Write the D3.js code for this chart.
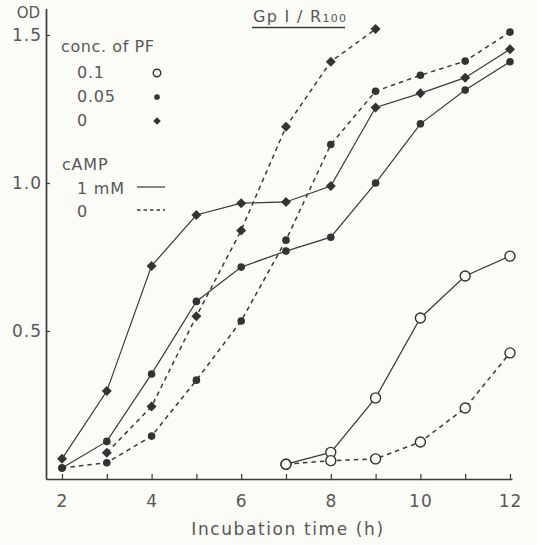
<!DOCTYPE html>
<html>
<head>
<meta charset="utf-8">
<script src="https://cdn.jsdelivr.net/npm/d3@7"></script>
<style>
  html, body { margin: 0; padding: 0; background: #fbfbf8; }
  svg text { font-family: "DejaVu Sans", sans-serif; fill: #585858; }
</style>
</head>
<body>
<div id="chart"></div>
<script>
// --- DATA ---
const hours = [2, 3, 4, 5, 6, 7, 8, 9, 10, 11, 12];

// conc. of PF 0 (diamonds)
const pf0Camp   = [0.068, 0.297, 0.72, 0.892, 0.932, 0.936, 0.99, 1.255, 1.303, 1.356, 1.452];
const pf0NoCamp = [null, 0.089, 0.245, 0.55, 0.84, 1.19, 1.41, 1.52, null, null, null];

// conc. of PF 0.05 (filled dots)
const pf005Camp   = [0.037, 0.127, 0.355, 0.60, 0.716, 0.77, 0.817, 1.0, 1.20, 1.314, 1.41];
const pf005NoCamp = [0.037, 0.055, 0.145, 0.334, 0.534, 0.807, 1.13, 1.31, 1.364, 1.412, 1.51];

// conc. of PF 0.1 (open circles)
const pf01Camp   = [null, null, null, null, null, 0.05, 0.09, 0.274, 0.544, 0.686, 0.753];
const pf01NoCamp = [null, null, null, null, null, 0.05, 0.062, 0.068, 0.125, 0.24, 0.426];

const xTicks = [2, 3, 4, 5, 6, 7, 8, 9, 10, 11, 12];
const yTicks = [0.5, 1.0, 1.5];

const series = [
    { values: pf0Camp,     marker: "diamond", dashed: false },
    { values: pf0NoCamp,   marker: "diamond", dashed: true },
    { values: pf005Camp,   marker: "dot",     dashed: false },
    { values: pf005NoCamp, marker: "dot",     dashed: true },
    { values: pf01Camp,    marker: "circle",  dashed: false },
    { values: pf01NoCamp,  marker: "circle",  dashed: true }
];

const width = 537;
const height = 545;
const ink = "#3a3a3a";

const svg = d3.select("#chart")
    .append("svg")
    .attr("width", width)
    .attr("height", height);

// --- SCALES ---
const x = d3.scaleLinear().domain([1.643, 12.045]).range([46, 512]);
const y = d3.scaleLinear().domain([0, 1.59]).range([479, 8.4]);

// --- AXES ---
const xAxis = svg.append("g")
    .attr("transform", `translate(0, ${y(0)})`)
    .call(d3.axisBottom(x)
        .tickValues(xTicks)
        .tickSizeInner(-5)
        .tickSizeOuter(0)
        .tickPadding(16)
        .tickFormat(d => d % 2 === 0 ? d : ""));

const yAxis = svg.append("g")
    .attr("transform", `translate(${x(1.643)}, 0)`)
    .call(d3.axisLeft(y)
        .tickValues(yTicks)
        .tickSizeInner(-4)
        .tickSizeOuter(0)
        .tickPadding(4)
        .tickFormat(d3.format(".1f")));

[xAxis, yAxis].forEach(ax => {
    ax.select(".domain").attr("stroke", ink).attr("stroke-width", 1.7);
    ax.selectAll(".tick line").attr("stroke", ink).attr("stroke-width", 1.2);
    ax.selectAll("text")
        .attr("font-size", 17)
        .attr("fill", "#5c5c5c")
        .style("letter-spacing", "1px");
});

svg.append("text")
    .attr("x", 40)
    .attr("y", 18)
    .attr("text-anchor", "end")
    .attr("font-size", 15)
    .text("OD");

svg.append("text")
    .attr("x", (x(2) + x(12)) / 2 + 2)
    .attr("y", 535)
    .attr("text-anchor", "middle")
    .attr("font-size", 17)
    .style("letter-spacing", "1.6px")
    .text("Incubation time (h)");

// title (underlined)
const title = svg.append("text")
    .attr("x", 253)
    .attr("y", 22)
    .attr("font-size", 16)
    .style("letter-spacing", "1.3px");
title.append("tspan").text("Gp I / R");
title.append("tspan").attr("font-size", 11).text("100");
svg.append("line")
    .attr("x1", 252).attr("x2", 345)
    .attr("y1", 27.5).attr("y2", 27.5)
    .attr("stroke", ink)
    .attr("stroke-width", 1.3);

// --- LINES ---
const line = d3.line()
    .defined(d => d.v != null)
    .x(d => x(d.h))
    .y(d => y(d.v));

function drawMarker(g, type, cx, cy, s) {
    if (type === "diamond") {
        g.append("path")
            .attr("d", `M${cx},${cy - 5 * s}L${cx + 5 * s},${cy}L${cx},${cy + 5 * s}L${cx - 5 * s},${cy}Z`)
            .attr("fill", "#333");
    } else if (type === "dot") {
        g.append("circle")
            .attr("cx", cx).attr("cy", cy).attr("r", 3.8 * s)
            .attr("fill", "#333");
    } else {
        g.append("circle")
            .attr("cx", cx).attr("cy", cy).attr("r", 5 * s)
            .attr("fill", "#fbfbf8")
            .attr("stroke", "#333")
            .attr("stroke-width", 1.4);
    }
}

series.forEach(s => {
    const pts = hours.map((h, i) => ({ h: h, v: s.values[i] }));
    svg.append("path")
        .datum(pts)
        .attr("d", line)
        .attr("fill", "none")
        .attr("stroke", ink)
        .attr("stroke-width", s.dashed ? 1.5 : 1.2)
        .attr("stroke-dasharray", s.dashed ? "4.5,4" : null);
});

series.forEach(s => {
    const g = svg.append("g");
    hours.forEach((h, i) => {
        if (s.values[i] != null) drawMarker(g, s.marker, x(h), y(s.values[i]), 1);
    });
});

// --- LEGEND ---
const legend = svg.append("g");
legend.append("text").attr("x", 61).attr("y", 52).attr("font-size", 16).style("letter-spacing", "0.6px").text("conc. of PF");

const pfRows = [
    { label: "0.1", marker: "circle", y: 78 },
    { label: "0.05", marker: "dot", y: 102 },
    { label: "0", marker: "diamond", y: 126 }
];
pfRows.forEach(r => {
    legend.append("text").attr("x", 77).attr("y", r.y).attr("font-size", 16).style("letter-spacing", "0.8px").text(r.label);
    drawMarker(legend, r.marker, 157, r.y - 5, 0.75);
});

legend.append("text").attr("x", 62).attr("y", 170).attr("font-size", 16).style("letter-spacing", "0.8px").text("cAMP");
const campRows = [
    { label: "1 mM", dashed: false, y: 194 },
    { label: "0", dashed: true, y: 217 }
];
campRows.forEach(r => {
    legend.append("text").attr("x", 77).attr("y", r.y).attr("font-size", 16).style("letter-spacing", "0.8px").text(r.label);
    legend.append("line")
        .attr("x1", 137).attr("x2", 165)
        .attr("y1", r.y - 7).attr("y2", r.y - 7)
        .attr("stroke", ink)
        .attr("stroke-width", r.dashed ? 1.4 : 1.2)
        .attr("stroke-dasharray", r.dashed ? "3.5,3" : null);
});
</script>
</body>
</html>
